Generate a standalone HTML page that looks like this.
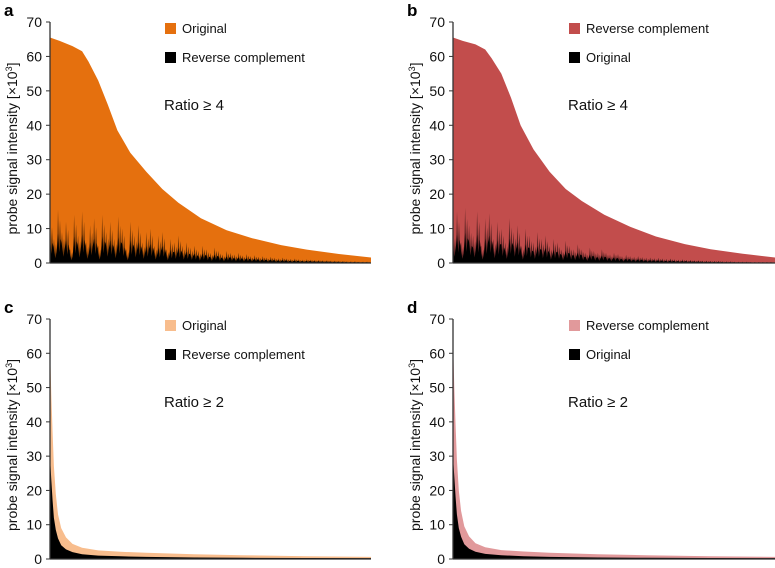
<!DOCTYPE html>
<html><head><meta charset="utf-8"><style>
body{margin:0;background:#fff}
svg{display:block;font-family:"Liberation Sans",sans-serif}
</style></head><body>
<svg id="fig" width="775" height="568" viewBox="0 0 775 568"></svg>
<script>
// percentile rank of probe (0..1) and intensity (x10^3)
const rankTop=[0,0.03,0.07,0.1,0.12,0.15,0.18,0.21,0.25,0.3,0.35,0.4,0.47,0.55,0.63,0.72,0.8,0.9,1];
const origA=[65.5,64.5,63,61.5,58.5,53,46,38.5,32,26.5,21.5,17.5,13,9.5,7.2,5.2,3.9,2.6,1.6];
const revB=[65.5,64.5,63.5,62,59.5,55,48,40,33,26.5,21.5,18,14,10.5,7.7,5.5,4,2.7,1.6];
const rankBot=[0,0.004,0.008,0.012,0.018,0.025,0.035,0.05,0.07,0.1,0.15,0.22,0.3,0.45,0.6,0.8,1];
const origC=[62,48,37,27,19,13,9,6.3,4.4,3.3,2.5,2.1,1.8,1.4,1.1,0.8,0.6];
const revD=[64,50,39,29,20,14,9.5,6.6,4.6,3.4,2.6,2.2,1.8,1.4,1.1,0.8,0.6];
const blkC=[30,23,17,12,8.5,6,4,2.8,2,1.4,1,0.8,0.6,0.45,0.35,0.3,0.25];
const blkD=[30,24,18,13,9,6.5,4.3,3,2.1,1.5,1.1,0.8,0.6,0.45,0.35,0.3,0.25];
// noisy low series for ratio>=4, sampled spike heights
const noiseTop=[13,7,15.5,9,12,4,14,8,15,6,11,13,5,14,9,12,7,13.5,10,4,12,8,11,6,9,10,5,8,9,4,7,6,8,5,6,4.5,5,3.5,5,4,3,4.5,3.5,2.5,3.5,3,2.5,3,2.2,2.6,2,2.3,1.8,2,1.6,1.8,1.5,1.4,1.6,1.3,1.2,1.3,1.1,1,1.1,1,0.9,0.9,0.8,0.8,0.7,0.7,0.6,0.6,0.5,0.5,0.5,0.4,0.4,0.4];
const noiseTop2=[9,15,6,16,11,8,15,5,13,14.5,7,12,10,6,13,9,11,5,10,8,6,9,7,8,5,7,6,4,6.5,5,4,5.5,4,3,4.5,3.5,3,4,3,2.5,3,2.6,2,2.4,2,1.8,2,1.7,1.5,1.6,1.4,1.5,1.3,1.2,1.3,1.1,1,1.1,0.9,0.9,0.8,0.8,0.7,0.7,0.6,0.6,0.6,0.5,0.5,0.5,0.4,0.4,0.4,0.4,0.3,0.3,0.3,0.3,0.3,0.3];
const yTicks=[0,10,20,30,40,50,60,70];

const NS="http://www.w3.org/2000/svg";
const svg=document.getElementById('fig');
function mk(tag,attrs,parent){const e=document.createElementNS(NS,tag);for(const k in attrs)e.setAttribute(k,attrs[k]);(parent||svg).appendChild(e);return e;}

function panel(cfg){
  const g=mk('g',{});
  
  
  const x0=cfg.x0,x1=cfg.x1,yb=cfg.yb,yt=cfg.yt;
  const X=f=>x0+f*(x1-x0);
  const Y=v=>yb-(v/70)*(yb-yt);
  let d='M'+X(0)+','+Y(0);
  cfg.rank.forEach((r,i)=>{d+=' L'+X(r).toFixed(1)+','+Y(cfg.area[i]).toFixed(1);});
  d+=' L'+X(1)+','+Y(0)+' Z';
  const a=mk('path',{d:d,fill:cfg.color,'stroke-linejoin':'round'},g);
  
  
  const bg=mk('g',{},g);
  
  
  if(cfg.noise){
    const n=cfg.noise.length;
    const w=(x1-x0)/n;
    // light spiky envelope
    let p='M'+X(0)+','+Y(0);
    cfg.noise.forEach((v,i)=>{
      const xs=X(i/n);
      p+=' L'+xs.toFixed(1)+','+Y(v).toFixed(1)+' L'+(xs+w*0.25).toFixed(1)+','+Y(v*0.35).toFixed(1)+' L'+(xs+w*0.5).toFixed(1)+','+Y(v*0.8).toFixed(1)+' L'+(xs+w*0.75).toFixed(1)+','+Y(v*0.3).toFixed(1);
    });
    p+=' L'+X(1)+','+Y(0)+' Z';
    mk('path',{d:p,fill:'#000',opacity:0.55},bg);
    // dense dark core
    let q='M'+X(0)+','+Y(0);
    cfg.noise.forEach((v,i)=>{
      const xs=X(i/n);
      q+=' L'+xs.toFixed(1)+','+Y(v*0.55).toFixed(1)+' L'+(xs+w*0.33).toFixed(1)+','+Y(v*0.2).toFixed(1)+' L'+(xs+w*0.66).toFixed(1)+','+Y(v*0.45).toFixed(1);
    });
    q+=' L'+X(1)+','+Y(0)+' Z';
    mk('path',{d:q,fill:'#000'},bg);
  } else {
    let p='M'+X(0)+','+Y(0);
    cfg.rank.forEach((r,i)=>{p+=' L'+X(r).toFixed(1)+','+Y(cfg.black[i]).toFixed(1);});
    p+=' L'+X(1)+','+Y(0)+' Z';
    mk('path',{d:p,fill:'#000'},bg);
  }
  const ax=mk('g',{},g);
  
  
  mk('line',{x1:x0,y1:yt,x2:x0,y2:yb,stroke:'#333','stroke-width':1.3},ax);
  mk('line',{x1:x0,y1:yb,x2:x1,y2:yb,stroke:'#333','stroke-width':1.3},ax);
  yTicks.forEach(t=>{
    mk('line',{x1:x0-4,y1:Y(t),x2:x0,y2:Y(t),stroke:'#333','stroke-width':1},ax);
    const tx=mk('text',{x:x0-8,y:Y(t)+5,'text-anchor':'end','font-size':14,fill:'#111'},ax);
    tx.textContent=t;
    
    
  });
  const ttl=mk('text',{transform:`translate(${x0-33},${(yt+yb)/2+6}) rotate(-90)`,'text-anchor':'middle','font-size':14,fill:'#111'},g);
  ttl.innerHTML='probe signal intensity [×10<tspan dy="-5" font-size="9">3</tspan><tspan dy="5">]</tspan>';
  
  
  const L=mk('text',{x:x0-46,y:yt-6,'font-size':17,'font-weight':'bold',fill:'#000'},g);
  L.textContent=cfg.letter;
  
  
  const lg=mk('g',{},g);
  
  
  const lx=cfg.lx;
  mk('rect',{x:lx,y:yt+1,width:11,height:11,fill:cfg.color},lg);
  const t1=mk('text',{x:lx+17,y:yt+11,'font-size':13,fill:'#111'},lg);t1.textContent=cfg.areaLabel;
  
  
  mk('rect',{x:lx,y:yt+30,width:11,height:11,fill:'#000'},lg);
  const t2=mk('text',{x:lx+17,y:yt+40,'font-size':13,fill:'#111'},lg);t2.textContent=cfg.blackLabel;
  
  
  const r=mk('text',{x:lx-1,y:yt+88,'font-size':15,fill:'#111'},g);r.textContent=cfg.ratio;
  
  
}
panel({name:'panel-a',letter:'a',x0:50,x1:371,yb:263,yt:22,rank:rankTop,area:origA,noise:noiseTop,color:'#e5700e',areaName:'original',blackName:'reverse-complement',areaLabel:'Original',blackLabel:'Reverse complement',lx:165,ratio:'Ratio ≥ 4'});
panel({name:'panel-b',letter:'b',x0:453,x1:775,yb:263,yt:22,rank:rankTop,area:revB,noise:noiseTop2,color:'#c24d4c',areaName:'reverse-complement',blackName:'original',blackLabel:'Original',areaLabel:'Reverse complement',lx:569,ratio:'Ratio ≥ 4'});
panel({name:'panel-c',letter:'c',x0:50,x1:371,yb:559,yt:319,rank:rankBot,area:origC,black:blkC,color:'#f8bd8d',areaName:'original',blackName:'reverse-complement',areaLabel:'Original',blackLabel:'Reverse complement',lx:165,ratio:'Ratio ≥ 2'});
panel({name:'panel-d',letter:'d',x0:453,x1:775,yb:559,yt:319,rank:rankBot,area:revD,black:blkD,color:'#e1999b',areaName:'reverse-complement',blackName:'original',areaLabel:'Reverse complement',blackLabel:'Original',lx:569,ratio:'Ratio ≥ 2'});
</script>
</body></html>
